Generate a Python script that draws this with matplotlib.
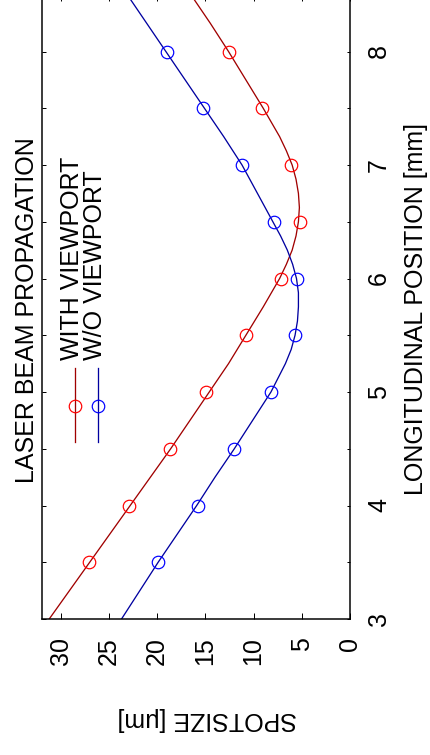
import matplotlib
matplotlib.use("Agg")
import matplotlib.pyplot as plt
from matplotlib.lines import Line2D

plt.rcParams['font.family'] = ['Liberation Sans', 'DejaVu Sans']

# Measured spot sizes [um] along the beam axis [mm]
position = [3.5, 4.0, 4.5, 5.0, 5.5, 6.0, 6.5, 7.0, 7.5, 8.0]
spot_with = [27.1, 22.9, 18.7, 14.9, 10.8, 7.2, 5.2, 6.1, 9.1, 12.6]
spot_without = [19.9, 15.8, 12.0, 8.2, 5.7, 5.5, 7.9, 11.2, 15.2, 19.0]

# Fitted beam caustics (sampled more finely around each waist)
fit_with_position = [3.0, 3.25, 3.5, 3.75, 4.0, 4.25, 4.5, 4.75, 5.0, 5.25,
                     5.5, 5.75, 6.0, 6.125, 6.25, 6.375, 6.5, 6.625, 6.75,
                     6.875, 7.0, 7.125, 7.25, 7.5, 7.75, 8.0, 8.25, 8.5]
fit_with = [31.2, 29.1, 27.0, 24.9, 22.8, 20.7, 18.6, 16.6, 14.6, 12.6,
            10.8, 9.0, 7.3, 6.6, 6.0, 5.6, 5.35, 5.25, 5.35,
            5.6, 6.0, 6.6, 7.3, 9.0, 10.8, 12.6, 14.5, 16.5]
fit_without_position = [3.0, 3.25, 3.5, 3.75, 4.0, 4.25, 4.5, 4.75, 5.0,
                        5.25, 5.375, 5.5, 5.625, 5.75, 5.875, 6.0, 6.125,
                        6.25, 6.375, 6.5, 6.75, 7.0, 7.25, 7.5, 7.75, 8.0,
                        8.25, 8.5]
fit_without = [23.7, 21.8, 19.9, 17.9, 15.9, 14.0, 12.0, 10.1, 8.2,
               6.7, 6.1, 5.7, 5.45, 5.35, 5.35, 5.55, 5.95,
               6.5, 7.2, 8.0, 9.6, 11.2, 13.1, 15.1, 17.1, 19.1,
               21.1, 23.1]

series_labels = ["WITH VIEWPORT", "W/O VIEWPORT"]
title_text = "LASER BEAM PROPAGATION"
position_label = "LONGITUDINAL POSITION [mm]"
spot_label = "SPOTSIZE [\u03bcm]"
position_ticks = [3, 4, 5, 6, 7, 8]
position_minor = [3.5, 4.5, 5.5, 6.5, 7.5]
spot_ticks = [0, 5, 10, 15, 20, 25, 30]

W, H = 430, 755
FS = 25
fig = plt.figure(figsize=(W / 72, H / 72), dpi=72)
fig.patch.set_facecolor('white')


def fx(px):
    return px / W


def fy(py):
    return 1 - py / H


# The whole chart is turned on its side: spot size runs right-to-left,
# position runs bottom-to-top.
ax = fig.add_axes([fx(41.5), fy(619), fx(350) - fx(41.5), fy(-5.25) - fy(619)])

line_red, line_blue = '#a00000', '#0000a0'
mark_red, mark_blue = '#ff0000', '#0000ff'

ax.plot(fit_with, fit_with_position, color=line_red, lw=1.3)
ax.plot(fit_without, fit_without_position, color=line_blue, lw=1.3)
ax.plot(spot_with, position, 'o', mfc='none', mec=mark_red, ms=12.5, mew=1.2)
ax.plot(spot_without, position, 'o', mfc='none', mec=mark_blue, ms=12.5, mew=1.2)

ax.set_xlim(32, 0)
ax.set_ylim(3, 8.5)
ax.set_xticks(spot_ticks, labels=[str(v) for v in spot_ticks])
ax.set_yticks(position_ticks, labels=[str(v) for v in position_ticks])
ax.set_yticks(position_minor, minor=True)

for sp in ax.spines.values():
    sp.set_linewidth(1.5)

ax.tick_params(axis='y', which='both', direction='in', length=3.5, width=1,
               left=True, right=True, labelleft=False, labelright=True,
               pad=17, labelsize=FS)
ax.tick_params(axis='x', which='major', direction='in', length=6, width=1,
               top=True, bottom=True, pad=18, labelsize=FS)
plt.setp(ax.get_yticklabels(), rotation=90, rotation_mode='anchor',
         ha='center', va='top')
plt.setp(ax.get_xticklabels(), rotation=90, rotation_mode='anchor',
         ha='right', va='center')

# Title and axis labels
fig.text(fx(34.5), fy(310), title_text, rotation=90, rotation_mode='anchor',
         ha='center', va='baseline', fontsize=FS)
fig.text(fx(423), fy(309), position_label, rotation=90, rotation_mode='anchor',
         ha='center', va='baseline', fontsize=FS)
fig.text(fx(207), fy(712), spot_label, rotation=180, rotation_mode='anchor',
         ha='center', va='baseline', fontsize=FS)

# Legend
legend_items = [(series_labels[0], line_red, mark_red, 75, 79),
                (series_labels[1], line_blue, mark_blue, 98, 102)]
for label, lc, mc, lx, tx in legend_items:
    fig.add_artist(Line2D([fx(lx), fx(lx)], [fy(368), fy(442)],
                          transform=fig.transFigure, color=lc, lw=1.3))
    fig.add_artist(Line2D([fx(lx)], [fy(406)], transform=fig.transFigure,
                          marker='o', mfc='none', mec=mc, ms=12.5, mew=1.2))
    fig.text(fx(tx), fy(360), label, rotation=90, rotation_mode='anchor',
             ha='left', va='baseline', fontsize=FS)

fig.savefig('out.png', dpi=72)
